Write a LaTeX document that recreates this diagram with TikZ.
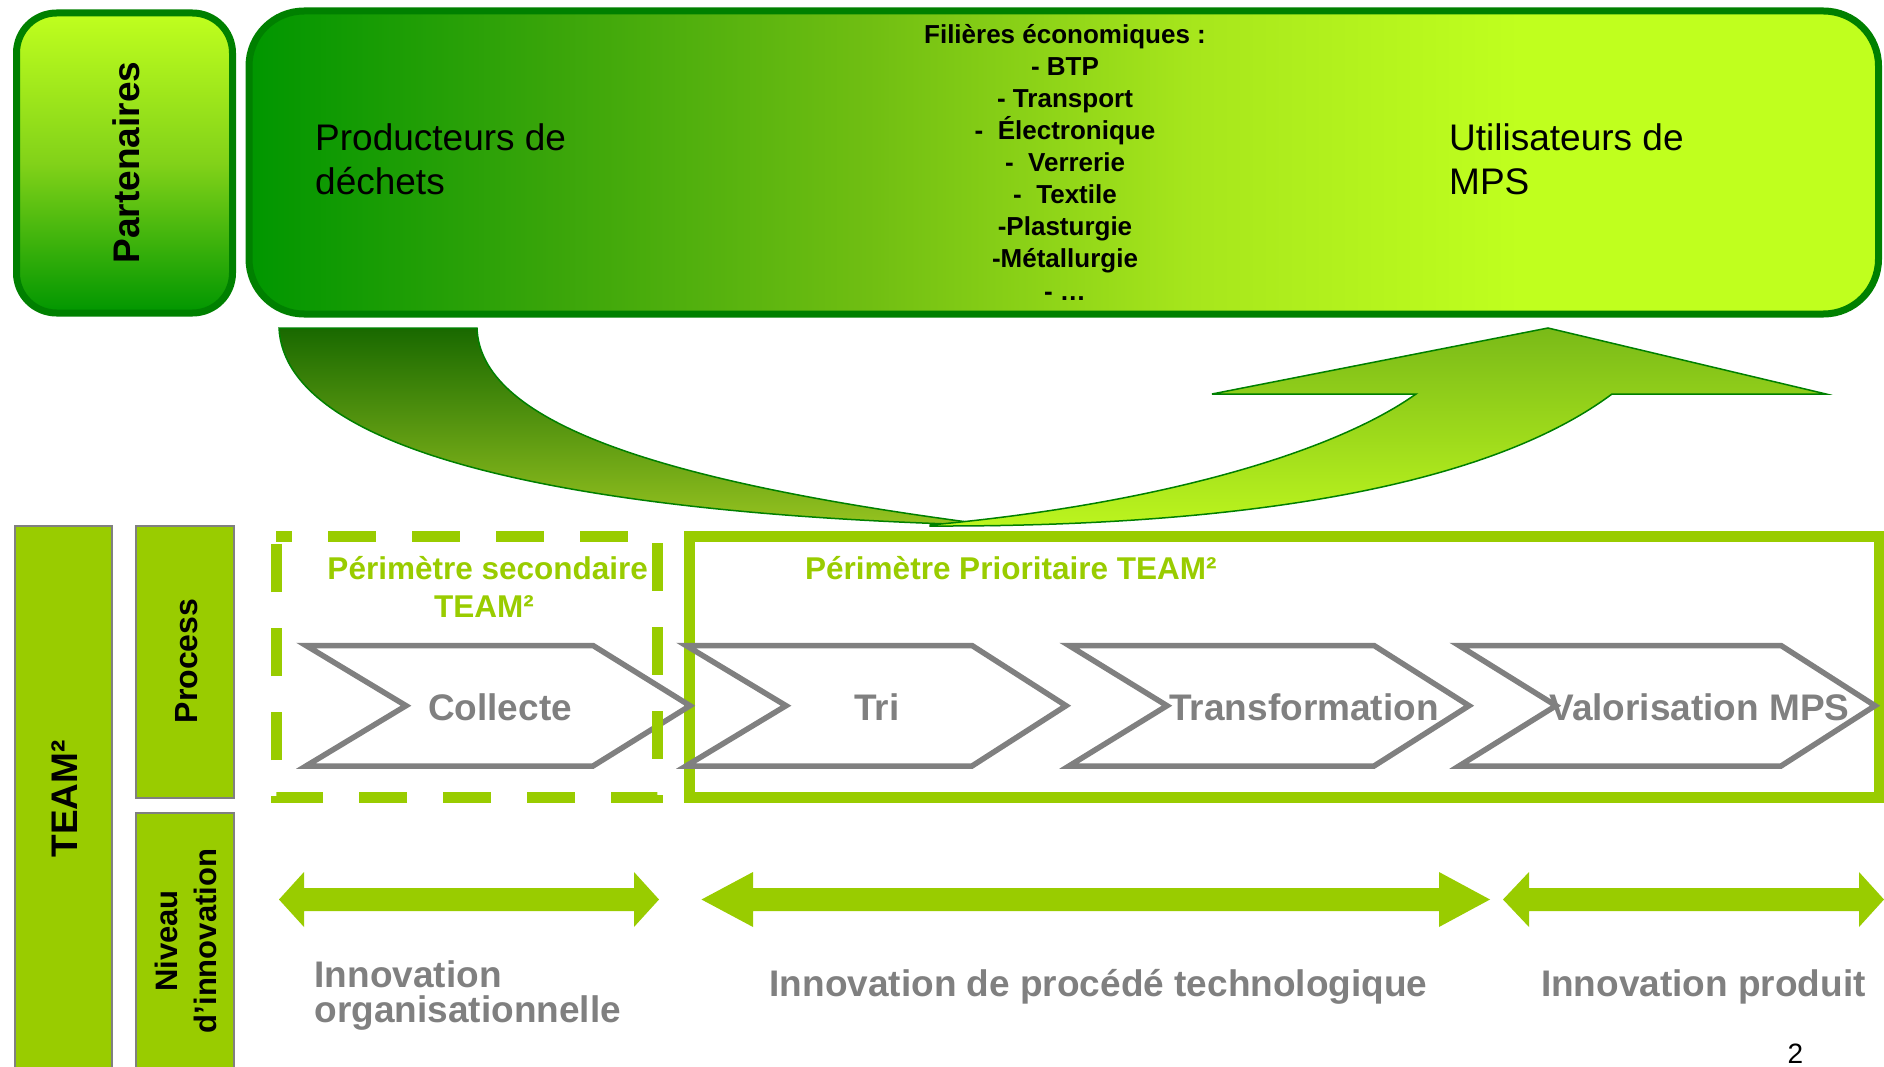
\documentclass[tikz,border=0pt]{standalone}
\usepackage{fontspec}
\setmainfont{Liberation Sans}
\definecolor{dkgreen}{RGB}{0,128,0}
\definecolor{gA}{RGB}{0,150,0}
\definecolor{gB}{RGB}{58,165,10}
\definecolor{gC}{RGB}{112,190,18}
\definecolor{gD}{RGB}{167,230,28}
\definecolor{limeA}{RGB}{192,255,30}
\definecolor{gMid}{RGB}{130,210,25}
\definecolor{yg}{RGB}{153,204,0}
\definecolor{gry}{RGB}{128,128,128}
\definecolor{laTop}{RGB}{25,105,0}
\definecolor{laBot}{RGB}{150,195,32}
\definecolor{raTop}{RGB}{122,186,24}
\definecolor{raBot}{RGB}{188,245,30}
\pgfdeclarehorizontalshading{bigboxshade}{100bp}{color(0bp)=(gA); color(25bp)=(gA); color(34.4bp)=(gB); color(44bp)=(gC); color(54bp)=(gD); color(64bp)=(limeA); color(100bp)=(limeA)}
\begin{document}
\begin{tikzpicture}[x=1pt,y=-1pt,
  txt/.style={inner sep=0pt, anchor=base},
  txtl/.style={inner sep=0pt, anchor=base west},
  bigblack/.style={font=\fontsize{37}{44}\selectfont, text=black},
  ftxt/.style={txt, font=\bfseries\fontsize{26}{32}\selectfont, text=black},
  sidelab/.style={txt, rotate=90, font=\bfseries, text=black},
  chev/.style={draw=gry, line width=5.5pt, line join=miter},
  chevtxt/.style={txt, font=\bfseries\fontsize{37}{44}\selectfont, text=gry},
  perim/.style={font=\bfseries\fontsize{31.5}{38}\selectfont, text=yg},
  innov/.style={font=\bfseries\fontsize{37}{44}\selectfont, text=gry},
  colbox/.style={draw=gry, line width=2pt, fill=yg},
  dbl/.style={fill=yg}
]
\useasboundingbox (0,0) rectangle (1884,1067);

% ---------- top boxes ----------
\draw[line width=7pt, draw=dkgreen, rounded corners=40pt,
      top color=limeA, bottom color=gA, middle color=gMid]
  (16.5,13) rectangle (232.5,313);
\draw[line width=7pt, draw=dkgreen, rounded corners=55pt, shading=bigboxshade]
  (249,11) rectangle (1878.5,314);

\node[sidelab, font=\bfseries\fontsize{37}{44}\selectfont] (part) at (139,162.5) {Partenaires};

\node[txtl, bigblack] (prodA) at (315,150.5) {Producteurs de};
\node[txtl, bigblack] (prodB) at (315,195) {déchets};
\node[txtl, bigblack] (utilA) at (1449,150.5) {Utilisateurs de};
\node[txtl, bigblack] (utilB) at (1449,195) {MPS};

\foreach \t [count=\i from 0] in {Filières économiques :, - BTP, - Transport, - \ Électronique, - \ Verrerie, - \ Textile, -Plasturgie, -Métallurgie, - …}
  \node[ftxt] (fil\i) at (1065,44+32*\i) {\t};

% ---------- curved arrows ----------
\draw[dkgreen, line width=1.5pt, top color=laTop, bottom color=laBot]
  (279,328) -- (477,328) .. controls (480,420) and (650,480) .. (975,523)
  -- (1000,525.5) .. controls (560,515) and (285,450) .. (279,328) -- cycle;
\draw[dkgreen, line width=1.5pt, top color=raTop, bottom color=raBot]
  (930,525) .. controls (1150,505) and (1330,455) .. (1416,394)
  -- (1212,394) -- (1548,328) -- (1826,394) -- (1612,394)
  .. controls (1490,485) and (1250,527) .. (930,526) -- cycle;

% ---------- left column ----------
\draw[colbox] (15,526) rectangle (112,1080);
\draw[colbox] (135.5,526) rectangle (233.5,798);
\draw[colbox] (135.5,813) rectangle (233.5,1080);
\node[sidelab, font=\bfseries\fontsize{37}{44}\selectfont] (team) at (77,799) {TEAM²};
\node[sidelab, font=\bfseries\fontsize{32}{38}\selectfont] (proc) at (197,661) {Process};
\node[sidelab, font=\bfseries\fontsize{31}{38}\selectfont] (nivA) at (177,941) {Niveau};
\node[sidelab, font=\bfseries\fontsize{31}{38}\selectfont] (nivB) at (216,941) {d’innovation};

% ---------- perimeters and chevrons ----------
\draw[yg, line width=11pt] (689,536) rectangle (1879,797);

\draw[chev] (686,645.5) -- (972,645.5) -- (1066,705.7) -- (972,766) -- (686,766) -- (786,705.7) -- cycle;
\draw[chev] (1069,645.5) -- (1374,645.5) -- (1469,705.7) -- (1374,766) -- (1069,766) -- (1167,705.7) -- cycle;
\draw[chev] (1459,645.5) -- (1781,645.5) -- (1875,705.7) -- (1781,766) -- (1459,766) -- (1556,705.7) -- cycle;
\draw[chev] (306,645.5) -- (593,645.5) -- (690,705.7) -- (593,766) -- (306,766) -- (406,705.7) -- cycle;

\draw[yg, line width=11pt, dash pattern=on 48pt off 36pt, dash phase=32pt]
  (276,536) -- (657,536) -- (657,797) -- (276,797) -- cycle;

\node[chevtxt] (collecte) at (500,720) {Collecte};
\node[chevtxt] (tri) at (877,720) {Tri};
\node[chevtxt] (transf) at (1304,720) {Transformation};
\node[chevtxt] (valo) at (1699.5,720) {Valorisation MPS};

\node[txt, perim] (secA) at (487.7,579.3) {Périmètre secondaire};
\node[txt, perim] (secB) at (484,617.3) {TEAM²};
\node[txtl, perim] (prio) at (805,579) {Périmètre Prioritaire TEAM²};

% ---------- double arrows ----------
\fill[dbl] (279,899.5) -- (304,872) -- (304,888) -- (634,888) -- (634,872) -- (659,899.5)
  -- (634,927) -- (634,911) -- (304,911) -- (304,927) -- cycle;
\fill[dbl] (701.5,899.5) -- (753,872) -- (753,888) -- (1439,888) -- (1439,872) -- (1490,899.5)
  -- (1439,927) -- (1439,911) -- (753,911) -- (753,927) -- cycle;
\fill[dbl] (1503,899.5) -- (1529,872) -- (1529,888) -- (1859,888) -- (1859,872) -- (1884,899.5)
  -- (1859,927) -- (1859,911) -- (1529,911) -- (1529,927) -- cycle;

\node[txtl, innov] (orgA) at (314.5,987.4) {Innovation};
\node[txtl, innov] (orgB) at (314.5,1022) {organisationnelle};
\node[txt, innov] (proced) at (1098.5,996) {Innovation de procédé technologique};
\node[txt, innov] (produit) at (1703.4,996) {Innovation produit};

\node[txt, font=\fontsize{28}{34}\selectfont, text=black] (pagenum) at (1795.5,1063) {2};
\end{tikzpicture}
\end{document}
